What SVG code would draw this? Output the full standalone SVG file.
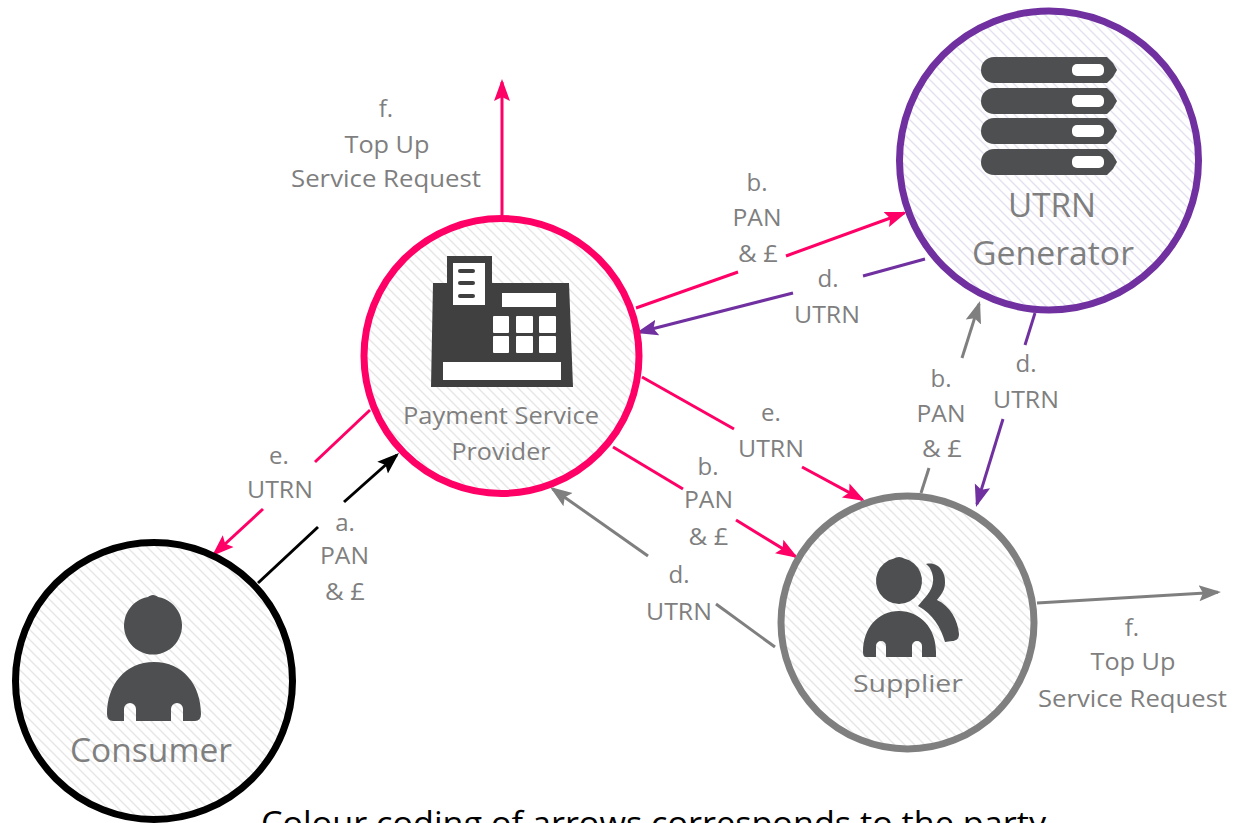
<svg xmlns="http://www.w3.org/2000/svg" xmlns:xlink="http://www.w3.org/1999/xlink" width="1234" height="823" viewBox="0 0 1234 823">
<style>
text{font-family:"Open Sans","Noto Sans","Liberation Sans",sans-serif;fill:#7f7f7f;text-anchor:middle}
.l{font-size:24px}
.big{font-size:32px}
.cap{font-size:32px;fill:#000}
.ring{stroke-width:7}
.icon{fill:#4d4f50}
.reg{fill:#404040}
.hole{fill:#fff}
#connectors line{stroke-width:3;fill:none}
.p{stroke:#ff0066}.u{stroke:#7030a0}.g{stroke:#7f7f7f}.k{stroke:#000}
</style>
<defs>
<pattern id="hatch" width="10" height="10" patternUnits="userSpaceOnUse"><path d="M-2 -2L12 12M-2 8L2 12M8 -2L12 2" stroke="#e6e6e6" stroke-width="1.4" fill="none"/></pattern>
<pattern id="hatchU" width="10" height="10" patternUnits="userSpaceOnUse"><path d="M-2 -2L12 12M-2 8L2 12M8 -2L12 2" stroke="#e4e0f0" stroke-width="1.4" fill="none"/></pattern>
<marker id="mp" markerUnits="userSpaceOnUse" markerWidth="24" markerHeight="18" refX="19" refY="9" orient="auto"><path d="M0 1L22 9L0 17L4 9Z" fill="#ff0066"/></marker>
<marker id="mu" markerUnits="userSpaceOnUse" markerWidth="24" markerHeight="18" refX="19" refY="9" orient="auto"><path d="M0 1L22 9L0 17L4 9Z" fill="#7030a0"/></marker>
<marker id="mg" markerUnits="userSpaceOnUse" markerWidth="24" markerHeight="18" refX="19" refY="9" orient="auto"><path d="M0 1L22 9L0 17L4 9Z" fill="#7f7f7f"/></marker>
<marker id="mk" markerUnits="userSpaceOnUse" markerWidth="24" markerHeight="18" refX="19" refY="9" orient="auto"><path d="M0 1L22 9L0 17L4 9Z" fill="#000"/></marker>
<g id="bar"><path class="icon" d="M994 57H1107L1113 63L1117 70L1113 77L1107 83H994A13 13 0 0 1 994 57Z"/><rect class="hole" x="1072" y="64" width="32" height="12" rx="5"/></g>
</defs>
<rect width="1234" height="823" fill="#fff"/>
<g id="connectors">
<line class="p" x1="502" y1="215" x2="502" y2="82" marker-end="url(#mp)"/>
<line class="p" x1="636" y1="308" x2="738" y2="272"/>
<line class="p" x1="786" y1="256" x2="904.2" y2="213" marker-end="url(#mp)"/>
<line class="u" x1="925" y1="259" x2="863" y2="276"/>
<line class="u" x1="793" y1="293" x2="638.9" y2="332.3" marker-end="url(#mu)"/>
<line class="p" x1="370" y1="410" x2="315" y2="462"/>
<line class="p" x1="263" y1="509" x2="214.2" y2="554" marker-end="url(#mp)"/>
<line class="k" x1="258" y1="583" x2="318" y2="527"/>
<line class="k" x1="344" y1="502" x2="396.8" y2="455" marker-end="url(#mk)"/>
<line class="p" x1="642" y1="377" x2="734" y2="429"/>
<line class="p" x1="802" y1="467" x2="862.4" y2="499.6" marker-end="url(#mp)"/>
<line class="p" x1="613" y1="447" x2="683" y2="489"/>
<line class="p" x1="736" y1="520" x2="795.4" y2="556.4" marker-end="url(#mp)"/>
<line class="g" x1="775" y1="647" x2="716" y2="604"/>
<line class="g" x1="648" y1="556" x2="552.5" y2="488.7" marker-end="url(#mg)"/>
<line class="g" x1="921" y1="493" x2="929" y2="468"/>
<line class="g" x1="962" y1="358" x2="979.1" y2="303.9" marker-end="url(#mg)"/>
<line class="u" x1="1035" y1="313" x2="1025" y2="345"/>
<line class="u" x1="1003" y1="419" x2="976.9" y2="504.1" marker-end="url(#mu)"/>
<line class="g" x1="1037" y1="603" x2="1218" y2="592.2" marker-end="url(#mg)"/>
</g>
<g id="node-psp">
<circle class="ring" cx="501.5" cy="356" r="137.5" fill="url(#hatch)" stroke="#ff0066"/>
<path class="reg" d="M433 283H447V256H492V283H569L573 387H431Z"/>
<rect class="hole" x="453" y="263" width="32" height="42"/>
<rect class="reg" x="458" y="269" width="17" height="4" rx="2"/>
<rect class="reg" x="458" y="281" width="17" height="4" rx="2"/>
<rect class="reg" x="458" y="294" width="17" height="4" rx="2"/>
<rect class="hole" x="502" y="293" width="54" height="14"/>
<rect class="hole" x="493" y="316" width="16" height="17" rx="1"/><rect class="hole" x="516" y="316" width="17" height="17" rx="1"/><rect class="hole" x="539" y="316" width="17" height="17" rx="1"/>
<rect class="hole" x="493" y="336" width="16" height="17" rx="1"/><rect class="hole" x="516" y="336" width="17" height="17" rx="1"/><rect class="hole" x="539" y="336" width="17" height="17" rx="1"/>
<rect class="hole" x="443" y="362" width="118" height="18"/>
<text class="l" x="501" y="424" textLength="196" lengthAdjust="spacingAndGlyphs">Payment Service</text>
<text class="l" x="501" y="460" textLength="99" lengthAdjust="spacingAndGlyphs">Provider</text>
</g>
<g id="node-utrn">
<circle class="ring" cx="1049" cy="160.5" r="149.5" fill="url(#hatchU)" stroke="#7030a0"/>
<use xlink:href="#bar" href="#bar"/>
<use xlink:href="#bar" href="#bar" y="31"/>
<use xlink:href="#bar" href="#bar" y="61"/>
<use xlink:href="#bar" href="#bar" y="92"/>
<text class="big" x="1052" y="217" textLength="88" lengthAdjust="spacingAndGlyphs">UTRN</text>
<text class="big" x="1053" y="265" textLength="162" lengthAdjust="spacingAndGlyphs">Generator</text>
</g>
<g id="node-consumer">
<circle class="ring" cx="154" cy="681" r="138.5" fill="url(#hatch)" stroke="#000"/>
<path class="icon" d="M153 595C151 595 149 596 148 597A29 29 0 1 0 158 597C157 596 155 595 153 595Z"/>
<path class="icon" d="M107 714C107 685 125 662 154 662C183 662 201 685 201 714Q201 721 195 721H183V709A6 6 0 0 0 171 709V721H136V709A6 6 0 0 0 124 709V721H113Q107 721 107 714Z"/>
<text class="big" x="151" y="762" textLength="162" lengthAdjust="spacingAndGlyphs">Consumer</text>
</g>
<g id="node-supplier">
<circle class="ring" cx="907.5" cy="622.5" r="126.5" fill="url(#hatch)" stroke="#7f7f7f"/>
<path class="icon" d="M899 557C897 557 895 558 894 558.5A23 23 0 1 0 904 558.5C903 558 901 557 899 557Z"/>
<path class="icon" d="M863 652C863 628 878 611 899 611C920 611 936 628 936 652V657H922V646A5 5 0 0 0 912 646V657H886V646A5 5 0 0 0 876 646V657H866Q863 657 863 652Z"/>
<path class="icon" d="M926 564C938 561 946 572 945 583C945 590 941 595 937 600C950 606 958 620 959 634C959 639 956 641 952 641L945 642C941 628 933 614 918 606L923 600C930 593 934 585 933 577C932 571 930 567 926 564Z"/>
<text class="l" x="908" y="692" textLength="110" lengthAdjust="spacingAndGlyphs">Supplier</text>
</g>
<g id="labels">
<text class="l" x="386" y="117">f.</text>
<text class="l" x="387" y="153" textLength="85" lengthAdjust="spacingAndGlyphs">Top Up</text>
<text class="l" x="386" y="187" textLength="190" lengthAdjust="spacingAndGlyphs">Service Request</text>
<text class="l" x="757" y="191">b.</text>
<text class="l" x="757" y="226" textLength="49" lengthAdjust="spacingAndGlyphs">PAN</text>
<text class="l" x="758" y="262" textLength="40" lengthAdjust="spacingAndGlyphs">&amp; £</text>
<text class="l" x="828" y="287">d.</text>
<text class="l" x="827" y="323" textLength="66" lengthAdjust="spacingAndGlyphs">UTRN</text>
<text class="l" x="279" y="464">e.</text>
<text class="l" x="280" y="498" textLength="66" lengthAdjust="spacingAndGlyphs">UTRN</text>
<text class="l" x="345" y="531">a.</text>
<text class="l" x="344.500" y="564" textLength="49" lengthAdjust="spacingAndGlyphs">PAN</text>
<text class="l" x="345" y="600" textLength="40" lengthAdjust="spacingAndGlyphs">&amp; £</text>
<text class="l" x="771" y="421">e.</text>
<text class="l" x="771" y="457" textLength="66" lengthAdjust="spacingAndGlyphs">UTRN</text>
<text class="l" x="708" y="475">b.</text>
<text class="l" x="708.500" y="508" textLength="49" lengthAdjust="spacingAndGlyphs">PAN</text>
<text class="l" x="708.500" y="545" textLength="40" lengthAdjust="spacingAndGlyphs">&amp; £</text>
<text class="l" x="679" y="583">d.</text>
<text class="l" x="679" y="620" textLength="66" lengthAdjust="spacingAndGlyphs">UTRN</text>
<text class="l" x="941" y="387">b.</text>
<text class="l" x="941" y="422" textLength="49" lengthAdjust="spacingAndGlyphs">PAN</text>
<text class="l" x="942" y="457" textLength="40" lengthAdjust="spacingAndGlyphs">&amp; £</text>
<text class="l" x="1026" y="372">d.</text>
<text class="l" x="1026" y="408" textLength="66" lengthAdjust="spacingAndGlyphs">UTRN</text>
<text class="l" x="1132" y="636">f.</text>
<text class="l" x="1133" y="670" textLength="85" lengthAdjust="spacingAndGlyphs">Top Up</text>
<text class="l" x="1132.500" y="707" textLength="189" lengthAdjust="spacingAndGlyphs">Service Request</text>
</g>
<text class="cap" x="653.500" y="835" textLength="785" lengthAdjust="spacingAndGlyphs">Colour coding of arrows corresponds to the party</text>
</svg>
